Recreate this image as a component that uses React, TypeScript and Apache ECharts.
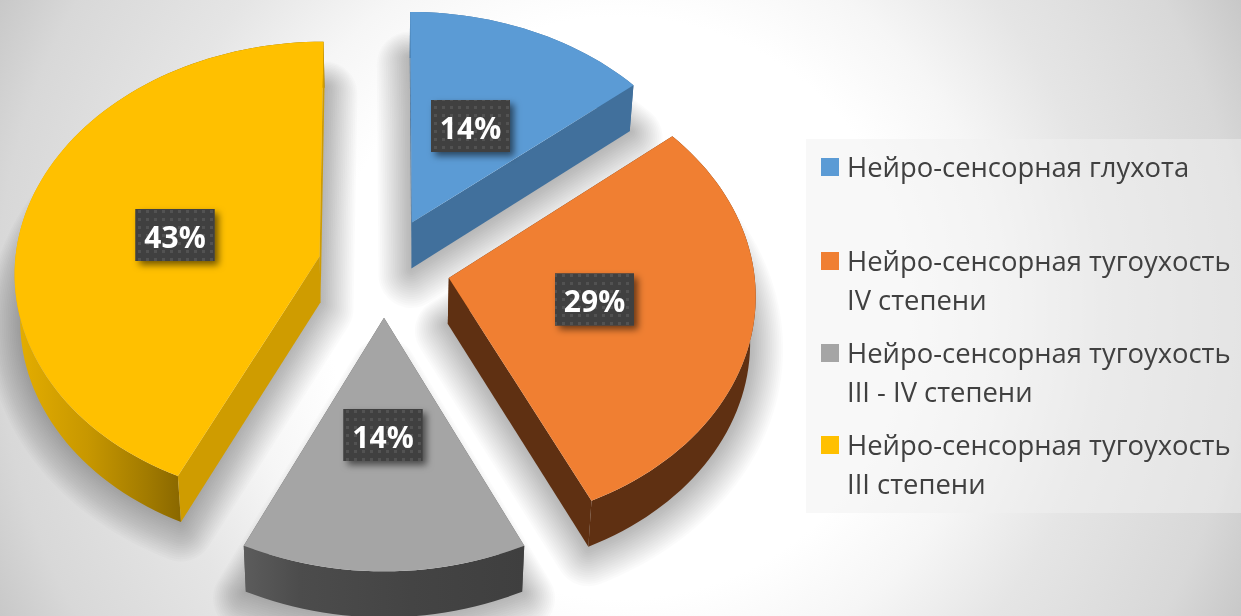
import React, { useEffect, useRef } from "react";
import * as echarts from "echarts";

const categories = [
  "Нейро-сенсорная глухота",
  "Нейро-сенсорная тугоухость\nIV степени",
  "Нейро-сенсорная тугоухость\nIII - IV степени",
  "Нейро-сенсорная тугоухость\nIII степени",
];
const shares = [14, 29, 14, 43];
const shareLabels = ["14%", "29%", "14%", "43%"];
const topColors = ["#5B9BD5", "#F07F32", "#A5A5A5", "#FFC000"];

// Projection of the tilted, exploded pie (layout only)
const CX = 384, CY = 267, RX = 305, RY = 230, K = 0.066, EXPLODE = 0.217;
const DEPTH = 46, SHRINK = 0.985;
const SHADOW_LAYERS = 18, SHADOW_REACH = 33, SHADOW_ALPHA = 0.0155;
const labelCentres = [[470.5, 126], [594.5, 299.5], [383, 435], [175, 235]];
const legendRows = [166, 260, 352, 444];

const TOTAL = shares.reduce((a, b) => a + b, 0);
const startAngle = (i: number) => (shares.slice(0, i).reduce((a, b) => a + b, 0) / TOTAL) * Math.PI * 2;

const project = (X: number, Z: number) => {
  const d = 1 - K * Z;
  return [CX + (RX * X) / d, CY + (RY * Z) / d];
};
const lower = (p: number[]) => [CX + (p[0] - CX) * SHRINK, p[1] + DEPTH];

function outline(i: number, v: number) {
  const a0 = startAngle(i);
  const a1 = a0 + (v / TOTAL) * Math.PI * 2;
  const m = (a0 + a1) / 2;
  const ox = EXPLODE * Math.sin(m), oz = -EXPLODE * Math.cos(m);
  const arc: number[][] = [];
  const n = Math.max(12, Math.round(v * 2));
  for (let j = 0; j <= n; j++) {
    const a = a0 + ((a1 - a0) * j) / n;
    arc.push(project(ox + Math.sin(a), oz - Math.cos(a)));
  }
  return { apex: project(ox, oz), arc };
}

const grad = (x0: number, x1: number, stops: [number, string][]) =>
  new echarts.graphic.LinearGradient(x0, 0, x1, 0, stops.map(([offset, color]) => ({ offset, color })), true);

const flatEdge = ["#41709C", "#5F3012", "#5A5A5A", "#CF9C00"];

function arcFill(i: number) {
  if (i === 0) return "#41709C";
  if (i === 1) return "#5F3012";
  if (i === 2) return grad(244, 524, [[0, "#5C5C5C"], [0.2, "#4C4C4C"], [0.6, "#444444"], [1, "#3F3F3F"]]);
  return grad(13, 180, [[0, "#E6AF00"], [0.45, "#C79700"], [0.8, "#A27B00"], [1, "#8A6800"]]);
}

function App() {
  const ref = useRef<HTMLDivElement>(null);
  useEffect(() => {
    const chart = echarts.init(ref.current!, undefined, { renderer: "svg" });

    const c = document.createElement("canvas");
    c.width = 8; c.height = 8;
    const g = c.getContext("2d")!;
    g.fillStyle = "#404040"; g.fillRect(0, 0, 8, 8);
    g.fillStyle = "#525252"; g.fillRect(2, 2, 3, 3);
    const dots = c.toDataURL();

    // Soft cast shadow: stacked translucent strokes that widen away from the slice.
    const shadowItem = (_p: any, api: any) => {
      const i = api.value(0) as number;
      const v = api.value(1) as number;
      const { apex, arc } = outline(i, v);
      const pts = [apex, ...arc].map(lower);
      const children: any[] = [];
      for (let l = 1; l <= SHADOW_LAYERS; l++) {
        const reach = SHADOW_REACH * (l / SHADOW_LAYERS);
        const shift = reach * 0.2;
        children.push({
          type: "polygon",
          shape: { points: pts.map((p) => [p[0], p[1] + shift]) },
          style: { fill: "none", stroke: `rgba(0,0,0,${SHADOW_ALPHA})`, lineWidth: reach * 2, lineJoin: "round" },
          silent: true,
        });
      }
      return { type: "group", children };
    };

    const sliceItem = (_p: any, api: any) => {
      const i = api.value(0) as number;
      const v = api.value(1) as number;
      const { apex, arc } = outline(i, v);
      const first = arc[0], last = arc[arc.length - 1];
      const wall = (line: number[][], fill: any) => ({
        type: "polygon",
        shape: { points: [...line, ...line.map(lower).reverse()] },
        style: { fill },
      });
      // Radial edges seen from the front go last; those facing away are first.
      const mid = arc[Math.floor(arc.length / 2)];
      const faces = (a: number[], b: number[]) => {
        const nx = -(b[1] - a[1]), ny = b[0] - a[0];
        const side = nx * (mid[0] - a[0]) + ny * (mid[1] - a[1]);
        return (side > 0 ? -ny : ny) > 0;
      };
      const edges = [[apex, first], [apex, last]];
      const back = edges.filter((e) => !faces(e[0], e[1])).map((e) => wall(e, flatEdge[i]));
      const front = edges.filter((e) => faces(e[0], e[1])).map((e) => wall(e, flatEdge[i]));
      const cx = labelCentres[i][0], cy = labelCentres[i][1];
      return {
        type: "group",
        children: [
          ...back,
          wall(arc, arcFill(i)),
          ...front,
          { type: "polygon", shape: { points: [apex, ...arc] }, style: { fill: topColors[i] } },
          {
            type: "rect",
            shape: { x: cx - 39.5, y: cy - 26, width: 79, height: 52 },
            style: { fill: "#404040", shadowBlur: 7, shadowColor: "rgba(0,0,0,0.55)", shadowOffsetX: 4, shadowOffsetY: 4 },
          },
          {
            type: "rect",
            shape: { x: cx - 39.5, y: cy - 26, width: 79, height: 52 },
            style: { fill: { image: dots, repeat: "repeat", imageWidth: 8, imageHeight: 8 } },
          },
          {
            type: "text",
            style: {
              x: cx, y: cy + 1, text: shareLabels[i], fill: "#ffffff", align: "center", verticalAlign: "middle",
              font: 'bold 30px "Open Sans"',
            },
          },
        ],
      };
    };

    const legendGraphics: any[] = [];
    categories.forEach((name, i) => {
      legendGraphics.push({
        type: "rect", z: 12, shape: { x: 821, y: legendRows[i] - 8, width: 18, height: 18 }, style: { fill: topColors[i] },
      });
      name.split("\n").forEach((line, j) => {
        legendGraphics.push({
          type: "text", z: 12,
          style: { x: 847, y: legendRows[i] + j * 39, text: line, fill: "#404040", font: '27.4px "Open Sans"', verticalAlign: "middle", align: "left" },
        });
      });
    });

    const data = shares.map((v, i) => [i, v]);
    chart.setOption({
      animation: false,
      graphic: [
        {
          type: "rect", z: -10, silent: true, shape: { x: 0, y: 0, width: 1241, height: 616 },
          style: {
            fill: new echarts.graphic.RadialGradient(620, 308, 693, [
              { offset: 0, color: "#ffffff" },
              { offset: 0.42, color: "#ffffff" },
              { offset: 0.55, color: "#f6f6f6" },
              { offset: 0.7, color: "#e5e5e5" },
              { offset: 0.9, color: "#d8d8d8" },
              { offset: 1, color: "#c8c8c8" },
            ], true),
          },
        },
        {
          type: "rect", z: 11, silent: true, shape: { x: 806, y: 139, width: 435, height: 374 },
          style: { fill: "rgba(240,240,240,0.49)" },
        },
        ...legendGraphics,
      ],
      series: [
        { type: "custom", name: "shadow", coordinateSystem: "none", renderItem: shadowItem, data, z: 1, silent: true },
        { type: "custom", name: "Распределение", coordinateSystem: "none", renderItem: sliceItem, data, z: 2, silent: true },
      ],
    });
    return () => chart.dispose();
  }, []);
  return <div ref={ref} style={{ position: "fixed", left: 0, top: 0, width: 1241, height: 616 }} />;
}

export default App;
